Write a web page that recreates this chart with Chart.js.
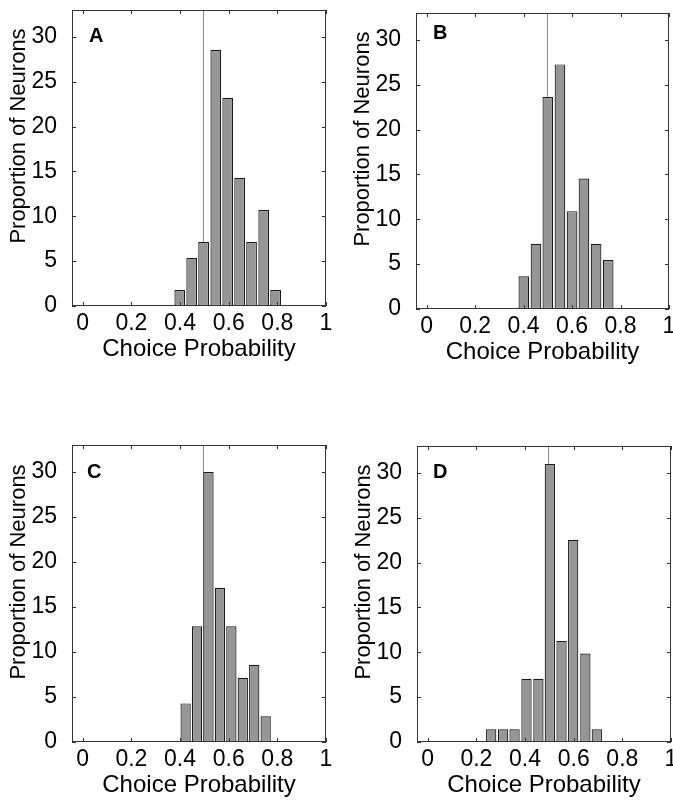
<!DOCTYPE html>
<html>
<head>
<meta charset="utf-8">
<script src="https://cdn.jsdelivr.net/npm/chart.js@4.4.0/dist/chart.umd.min.js"></script>
<style>
    html, body { margin: 0; padding: 0; background: #fff; overflow: hidden; }
    body { width: 673px; height: 801px; position: relative; }
    canvas { position: absolute; }
</style>
</head>
<body>
<canvas id="chartA"></canvas>
<canvas id="chartB"></canvas>
<canvas id="chartC"></canvas>
<canvas id="chartD"></canvas>
<script>
// bin centres (choice probability) and proportion of neurons (%)
var binsA = [0.399, 0.448, 0.497, 0.547, 0.596, 0.645, 0.694, 0.744, 0.793];
var propA = [1.79, 5.36, 7.14, 28.57, 23.21, 14.29, 7.14, 10.71, 1.79];

var binsB = [0.401, 0.451, 0.500, 0.550, 0.600, 0.649, 0.699, 0.749];
var propB = [3.64, 7.27, 23.64, 27.27, 10.91, 14.55, 7.27, 5.45];

var binsC = [0.423, 0.470, 0.517, 0.564, 0.611, 0.658, 0.705, 0.752];
var propC = [4.29, 12.86, 30.0, 17.14, 12.86, 7.14, 8.57, 2.86];

var binsD = [0.261, 0.310, 0.357, 0.406, 0.455, 0.502, 0.550, 0.598, 0.648, 0.695];
var propD = [1.42, 1.42, 1.42, 7.04, 7.04, 31.0, 11.27, 22.54, 9.86, 1.42];

var xTicks = [0, 0.2, 0.4, 0.6, 0.8, 1];
var yTicks = [0, 5, 10, 15, 20, 25, 30];
var chanceLevel = 0.495;

var FONT = '"Liberation Sans", Arial, Helvetica, sans-serif';

var boxPlugin = {
    id: 'matlabBox',
    beforeDatasetsDraw: function (chart) {
        var o = chart.options.plugins.matlabBox;
        var ctx = chart.ctx, a = chart.chartArea;
        var x = Math.round(chart.scales.x.getPixelForValue(o.chance)) + 0.5;
        ctx.save();
        ctx.strokeStyle = '#8a8a8a';
        ctx.lineWidth = 1;
        ctx.beginPath();
        ctx.moveTo(x, a.top);
        ctx.lineTo(x, a.bottom);
        ctx.stroke();
        ctx.restore();
    },
    afterDraw: function (chart) {
        var o = chart.options.plugins.matlabBox;
        var ctx = chart.ctx, a = chart.chartArea;
        var sx = chart.scales.x, sy = chart.scales.y;
        ctx.save();
        ctx.strokeStyle = '#333';
        ctx.lineWidth = 1;
        ctx.strokeRect(a.left + 0.5, a.top + 0.5, a.right - a.left - 1, a.bottom - a.top - 1);
        ctx.beginPath();
        xTicks.forEach(function (v) {
            var px = Math.round(sx.getPixelForValue(v)) + 0.5;
            ctx.moveTo(px, a.bottom); ctx.lineTo(px, a.bottom - 4);
            ctx.moveTo(px, a.top); ctx.lineTo(px, a.top + 4);
        });
        yTicks.forEach(function (v) {
            var py = Math.round(sy.getPixelForValue(v)) + 0.5;
            ctx.moveTo(a.left, py); ctx.lineTo(a.left + 4, py);
            ctx.moveTo(a.right, py); ctx.lineTo(a.right - 4, py);
        });
        ctx.stroke();

        // panel letter
        ctx.fillStyle = '#000';
        ctx.font = 'bold 20px ' + FONT;
        ctx.textAlign = 'left';
        ctx.textBaseline = 'alphabetic';
        ctx.fillText(o.letter, a.left + o.lx, a.top + o.ly);

        // y title
        ctx.font = '22px ' + FONT;
        ctx.translate(a.left - 53, a.bottom - 170);
        ctx.rotate(-Math.PI / 2);
        ctx.textAlign = 'center';
        ctx.textBaseline = 'middle';
        ctx.fillText('Proportion of Neurons', 0, 0);
        ctx.restore();
    }
};

function makePanel(id, letter, bins, props, box, lx, ly) {
    var cv = document.getElementById(id);
    var left = box.l - 72, top = box.t - 30;
    cv.width = box.r - left + 30;
    cv.height = box.b - top + 62;
    cv.style.left = left + 'px';
    cv.style.top = top + 'px';

    new Chart(cv, {
        type: 'bar',
        data: {
            datasets: [{
                data: bins.map(function (b, i) { return { x: b, y: props[i] }; }),
                backgroundColor: '#969696',
                borderColor: '#1a1a1a',
                borderWidth: 1.2,
                borderSkipped: false,
                barPercentage: 0.9,
                categoryPercentage: 1
            }]
        },
        options: {
            responsive: false,
            animation: false,
            layout: { padding: { top: 30, right: 30, left: 0, bottom: 0 } },
            plugins: {
                legend: { display: false },
                tooltip: { enabled: false },
                matlabBox: { letter: letter, chance: chanceLevel, lx: lx, ly: ly }
            },
            scales: {
                x: {
                    type: 'linear',
                    offset: false,
                    min: -0.044,
                    max: 1,
                    afterBuildTicks: function (s) { s.ticks = xTicks.map(function (v) { return { value: v }; }); },
                    afterFit: function (s) { s.height = 62; },
                    grid: { display: false, offset: false },
                    border: { display: false },
                    ticks: {
                        padding: -4,
                        color: '#000',
                        maxRotation: 0,
                        autoSkip: false,
                        font: { family: FONT, size: 23 },
                        callback: function (v) { return String(v); }
                    },
                    title: {
                        display: true,
                        text: 'Choice Probability',
                        color: '#000',
                        font: { family: FONT, size: 24 },
                        padding: { top: 0, bottom: 4 }
                    }
                },
                y: {
                    min: 0,
                    max: 33,
                    afterBuildTicks: function (s) { s.ticks = yTicks.map(function (v) { return { value: v }; }); },
                    afterFit: function (s) { s.width = 72; },
                    grid: { display: false },
                    border: { display: false },
                    ticks: {
                        padding: 7,
                        color: '#000',
                        font: { family: FONT, size: 23 }
                    }
                }
            }
        },
        plugins: [boxPlugin]
    });
}

makePanel('chartA', 'A', binsA, propA, { l: 72, r: 326, t: 10, b: 306 }, 17, 32);
makePanel('chartB', 'B', binsB, propB, { l: 416, r: 669, t: 13, b: 309 }, 17, 26);
makePanel('chartC', 'C', binsC, propC, { l: 72, r: 326, t: 445, b: 742 }, 15, 33);
makePanel('chartD', 'D', binsD, propD, { l: 417, r: 671, t: 446, b: 742 }, 16, 32);
</script>
</body>
</html>
